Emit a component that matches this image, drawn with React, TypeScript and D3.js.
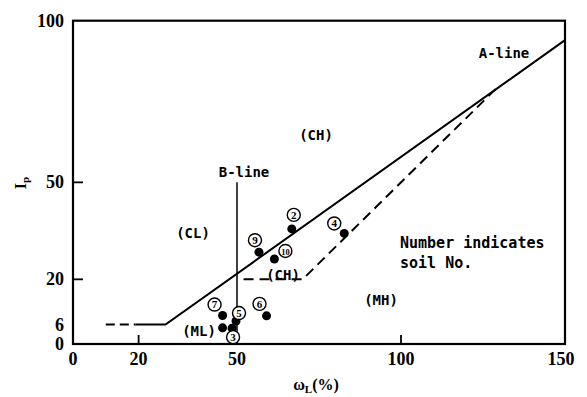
import React, { useEffect, useRef } from 'react';
import * as d3 from 'd3';

// soil samples: number, liquid limit wL (%), plasticity index Ip
const soilNos: (number | null)[] = [2, 3, 4, 5, 6, 7, 9, 10, null];
const wLValues = [66.7, 48.5, 82.7, 49.7, 59.0, 45.6, 56.7, 61.4, 45.6];
const ipValues = [35.6, 4.9, 34.2, 7.1, 8.7, 8.8, 28.4, 26.3, 5.0];

// A-line (solid part and dashed lead-in), B-line, and the dashed boundary
const aLineWL = [19, 28.2, 150];
const aLineIp = [6, 6, 94];
const aLeadWL = [10, 19];
const aLeadIp = [6, 6];
const bLineWL = [50, 50];
const bLineIp = [0, 50];
const dashWL = [52, 70, 129];
const dashIp = [20, 20, 79];

const xTicks = [0, 20, 50, 100, 150];
const yTicks = [0, 6, 20, 50, 100];

// label offsets of the circled numbers from their dots (px)
const labelOffsets: Record<number, [number, number]> = {
  2: [2, -14], 3: [1, 9], 4: [-10, -10], 5: [3, -8], 6: [-7, -12],
  7: [-8, -11], 9: [-4, -12], 10: [11, -8],
};

const App = () => {
  const svgRef = useRef<SVGSVGElement>(null);

  useEffect(() => {
    const svg = d3.select(svgRef.current);
    svg.selectAll('*').remove();

    const width = 587;
    const height = 397;
    const margin = { top: 20.7, right: 22, bottom: 53, left: 73 };

    svg.attr('width', width).attr('height', height);

    const x = d3.scaleLinear().domain([0, 150]).range([margin.left, width - margin.right]);
    const y = d3.scaleLinear().domain([0, 100]).range([height - margin.bottom, margin.top]);

    const serif = '"Liberation Serif", "Times New Roman", serif';
    const mono = '"DejaVu Sans Mono", "Liberation Mono", monospace';

    // frame
    svg.append('rect')
      .attr('x', x(0)).attr('y', y(100))
      .attr('width', x(150) - x(0)).attr('height', y(0) - y(100))
      .attr('fill', 'none').attr('stroke', '#000').attr('stroke-width', 2.2);

    // inward ticks
    svg.append('g').selectAll('line')
      .data(xTicks.filter(d => d === 20 || d === 100))
      .enter().append('line')
      .attr('x1', d => x(d)).attr('x2', d => x(d))
      .attr('y1', y(0)).attr('y2', y(0) - 9)
      .attr('stroke', '#000').attr('stroke-width', 1.8);

    svg.append('g').selectAll('line')
      .data(yTicks.filter(d => d === 20 || d === 50))
      .enter().append('line')
      .attr('x1', x(0)).attr('x2', x(0) + 10)
      .attr('y1', d => y(d)).attr('y2', d => y(d))
      .attr('stroke', '#000').attr('stroke-width', 1.8);

    // tick labels
    svg.append('g').selectAll('text')
      .data(xTicks)
      .enter().append('text')
      .attr('x', d => x(d) - (d === 150 ? 4 : 0))
      .attr('y', 365)
      .attr('text-anchor', 'middle')
      .style('font-family', serif).style('font-weight', 'bold').style('font-size', '18px')
      .text(d => d);

    svg.append('g').selectAll('text')
      .data(yTicks)
      .enter().append('text')
      .attr('x', 64)
      .attr('y', d => y(d) + 6)
      .attr('text-anchor', 'end')
      .style('font-family', serif).style('font-weight', 'bold').style('font-size', '18px')
      .text(d => d);

    // axis titles
    const xt = svg.append('text')
      .attr('x', 316).attr('y', 390)
      .attr('text-anchor', 'middle')
      .style('font-family', serif).style('font-weight', 'bold').style('font-size', '16px');
    xt.append('tspan').text('ω');
    xt.append('tspan').attr('dy', 3).style('font-size', '11px').text('L');
    xt.append('tspan').attr('dy', -3).text('(%)');

    const yt = svg.append('text')
      .attr('transform', `translate(26,183) rotate(-90)`)
      .attr('text-anchor', 'middle')
      .style('font-family', serif).style('font-weight', 'bold').style('font-size', '16px');
    yt.append('tspan').text('I');
    yt.append('tspan').attr('dy', 3).style('font-size', '11px').text('p');

    const line = d3.line<[number, number]>().x(d => x(d[0])).y(d => y(d[1]));
    const pts = (xs: number[], ys: number[]) => xs.map((v, i) => [v, ys[i]] as [number, number]);

    svg.append('path').attr('d', line(pts(aLineWL, aLineIp)))
      .attr('fill', 'none').attr('stroke', '#000').attr('stroke-width', 2);
    svg.append('path').attr('d', line(pts(aLeadWL, aLeadIp)))
      .attr('fill', 'none').attr('stroke', '#000').attr('stroke-width', 2)
      .attr('stroke-dasharray', '9,5');
    svg.append('path').attr('d', line(pts(dashWL, dashIp)))
      .attr('fill', 'none').attr('stroke', '#000').attr('stroke-width', 2)
      .attr('stroke-dasharray', '10,6');
    svg.append('path').attr('d', line(pts(bLineWL, bLineIp)))
      .attr('fill', 'none').attr('stroke', '#000').attr('stroke-width', 1.5);

    // region labels
    const labels: [string, number, number, number][] = [
      ['A-line', 504, 58, 14],
      ['B-line', 244, 177, 14],
      ['(CH)', 316, 140, 14],
      ['(CL)', 193, 238, 14],
      ['(CH)', 283, 280, 14],
      ['(ML)', 199, 336, 14],
      ['(MH)', 381, 305, 14],
    ];
    svg.append('g').selectAll('text')
      .data(labels)
      .enter().append('text')
      .attr('x', d => d[1]).attr('y', d => d[2])
      .attr('text-anchor', 'middle')
      .style('font-family', mono).style('font-weight', 'bold')
      .style('font-size', d => `${d[3]}px`)
      .text(d => d[0]);

    svg.append('text').attr('x', 400).attr('y', 248)
      .style('font-family', mono).style('font-weight', 'bold').style('font-size', '15px')
      .text('Number indicates');
    svg.append('text').attr('x', 400).attr('y', 268)
      .style('font-family', mono).style('font-weight', 'bold').style('font-size', '15px')
      .text('soil No.');

    // points
    const data = soilNos.map((n, i) => ({ n, wl: wLValues[i], ip: ipValues[i] }));
    svg.append('g').selectAll('circle')
      .data(data)
      .enter().append('circle')
      .attr('cx', d => x(d.wl)).attr('cy', d => y(d.ip))
      .attr('r', 4.5).attr('fill', '#000');

    const lab = svg.append('g').selectAll('g')
      .data(data.filter(d => d.n !== null))
      .enter().append('g')
      .attr('transform', d => {
        const o = labelOffsets[d.n as number];
        return `translate(${x(d.wl) + o[0]},${y(d.ip) + o[1]})`;
      });
    lab.append('circle').attr('r', 6.5)
      .attr('fill', '#fff').attr('stroke', '#000').attr('stroke-width', 1.4);
    lab.append('text')
      .attr('text-anchor', 'middle').attr('y', 3.8)
      .style('font-family', serif).style('font-weight', 'bold')
      .style('font-size', d => (d.n as number) >= 10 ? '8.5px' : '11px')
      .text(d => d.n as number);
  }, []);

  return (
    <svg ref={svgRef} style={{ position: 'absolute', left: 0, top: 0, background: '#fff' }}></svg>
  );
};

export default App;
